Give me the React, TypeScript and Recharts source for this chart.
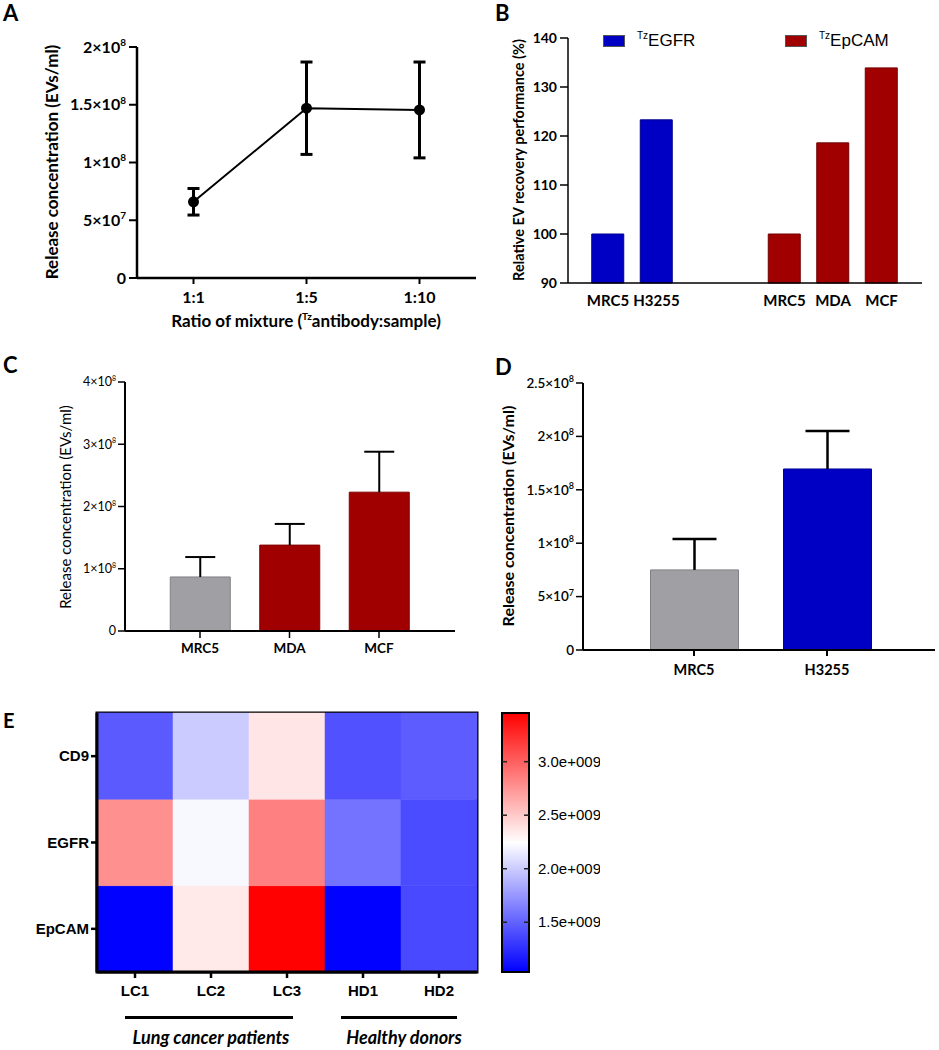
import React from "react";
import {
  ComposedChart,
  BarChart,
  Bar,
  Line,
  XAxis,
  YAxis,
  ErrorBar,
  Legend,
  Cell,
  ReferenceArea,
} from "recharts";

const FONT = "Lato, 'Open Sans', sans-serif";
const ARIAL = "'Liberation Sans', Arial, sans-serif";

// A: release concentration vs. mixing ratio
const ratioLabels = ["1:1", "1:5", "1:10"];
const ratioConc = [6.6e7, 1.47e8, 1.455e8];
const ratioSd = [1.15e7, 4.0e7, 4.15e7];

// B: relative recovery (%)
const egfrCells = ["MRC5", "H3255"];
const egfrRecovery = [100, 123.3];
const epcamCells = ["MRC5", "MDA", "MCF"];
const epcamRecovery = [100, 118.6, 133.9];

// C: EpCAM capture
const cCells = ["MRC5", "MDA", "MCF"];
const cConc = [0.868e8, 1.38e8, 2.23e8];
const cSd = [0.32e8, 0.34e8, 0.65e8];

// D: EGFR capture
const dCells = ["MRC5", "H3255"];
const dConc = [7.5e7, 1.695e8];
const dSd = [2.9e7, 3.55e7];

// E: heatmap
const samples = ["LC1", "LC2", "LC3", "HD1", "HD2"];
const markers = ["CD9", "EGFR", "EpCAM"];
const cd9Signal = [1.46e9, 2.0e9, 2.37e9, 1.42e9, 1.47e9];
const egfrSignal = [2.77e9, 2.21e9, 2.85e9, 1.58e9, 1.39e9];
const epcamSignal = [1.04e9, 2.35e9, 3.45e9, 1.04e9, 1.38e9];
const colorTicks = [1.5e9, 2.0e9, 2.5e9, 3.0e9];
const COLOR_MIN = 1.035e9;
const COLOR_MAX = 3.455e9;

const GRAY = "#a0a0a4";
const DARKRED = "#a00000";
const BLUE = "#0000c4";

const ratioData = ratioLabels.map((r, i) => ({ ratio: r, conc: ratioConc[i], sd: ratioSd[i] }));
const egfrData = egfrCells.map((c, i) => ({ cell: c, recovery: egfrRecovery[i] }));
const epcamData = epcamCells.map((c, i) => ({ cell: c, recovery: epcamRecovery[i] }));
const cData = cCells.map((c, i) => ({ cell: c, conc: cConc[i], sd: cSd[i] }));
const dData = dCells.map((c, i) => ({ cell: c, conc: dConc[i], sd: dSd[i] }));
const heatData = samples.map((s, i) => ({
  sample: s,
  CD9: cd9Signal[i],
  EGFR: egfrSignal[i],
  EpCAM: epcamSignal[i],
}));

function heatColor(v: number) {
  const t = Math.min(1, Math.max(0, (v - COLOR_MIN) / (COLOR_MAX - COLOR_MIN)));
  if (t < 0.5) {
    const c = Math.round(255 * (t / 0.5));
    return `rgb(${c},${c},255)`;
  }
  const c = Math.round(255 * (1 - (t - 0.5) / 0.5));
  return `rgb(255,${c},${c})`;
}

// "1.5×10⁸" style tick
function sciTick(fs: number, sup: number, weight: number) {
  return (props: any) => {
    const { x, y, payload } = props;
    const v = payload.value;
    const common = { fill: "#000", fontSize: fs, fontWeight: weight, fontFamily: FONT, textAnchor: "end" as const };
    if (v === 0) {
      return (
        <text x={x} y={y} dy="0.35em" {...common}>
          0
        </text>
      );
    }
    const exp = Math.floor(Math.log10(v) + 1e-9);
    const mant = +(v / Math.pow(10, exp)).toFixed(2);
    return (
      <text x={x} y={y} dy="0.35em" {...common}>
        {`${mant}×10`}
        <tspan fontSize={sup} dy={-fs * 0.42}>
          {exp}
        </tspan>
      </text>
    );
  };
}

function SdWhisker(props: any) {
  const { x, y, width, height, sw } = props;
  const cx = x + width / 2;
  const half = width / 4;
  return (
    <g>
      <line x1={cx} x2={cx} y1={y + height} y2={y} stroke="#000" strokeWidth={sw} />
      <line x1={cx - half} x2={cx + half} y1={y} y2={y} stroke="#000" strokeWidth={sw} />
    </g>
  );
}

function TzLegend({ payload }: any) {
  return (
    <div style={{ display: "flex", alignItems: "center" }}>
      {(payload || []).map((p: any) => (
        <div key={p.value} style={{ display: "flex", alignItems: "center" }}>
          <span
            style={{
              width: 20,
              height: 10,
              background: p.color,
              border: "1px solid #555",
              marginRight: 12,
            }}
          />
          <span style={{ fontFamily: ARIAL, fontSize: 17, color: "#000" }}>
            <span style={{ fontSize: 10, position: "relative", top: -7 }}>Tz</span>
            {p.value}
          </span>
        </div>
      ))}
    </div>
  );
}

function VTitle({ cx, cy, text, size, weight }: any) {
  return (
    <div
      style={{
        position: "absolute",
        left: cx,
        top: cy,
        transform: "translate(-50%, -50%) rotate(-90deg)",
        whiteSpace: "nowrap",
        fontSize: size,
        fontWeight: weight,
        fontFamily: FONT,
        lineHeight: 1.2,
      }}
    >
      {text}
    </div>
  );
}

function PanelLetter({ x, y, letter, size = 22 }: any) {
  return (
    <div
      style={{
        position: "absolute",
        left: x,
        top: y,
        fontSize: size,
        fontWeight: 700,
        fontFamily: FONT,
        lineHeight: 1.2,
      }}
    >
      {letter}
    </div>
  );
}

const abs = (left: number, top: number): React.CSSProperties => ({ position: "absolute", left, top });

export default function App() {
  const boldTick = (fs: number, family = FONT) => ({ fill: "#000", fontSize: fs, fontWeight: 700, fontFamily: family });

  return (
    <div
      style={{
        position: "absolute",
        left: 0,
        top: 0,
        width: 939,
        height: 1050,
        background: "#fff",
        fontFamily: FONT,
        overflow: "hidden",
      }}
    >
      {/* A */}
      <PanelLetter x={3} y={0} letter="A" />
      <VTitle cx={52} cy={162} text="Release concentration (EVs/ml)" size={17} weight={700} />
      <div style={abs(0, 0)}>
        <ComposedChart width={480} height={330} data={ratioData} margin={{ top: 47, right: 4, bottom: 0, left: 0 }}>
          <XAxis
            dataKey="ratio"
            scale="band"
            height={52}
            axisLine={{ stroke: "#000", strokeWidth: 2.5 }}
            tickLine={{ stroke: "#000", strokeWidth: 2 }}
            tickSize={6}
            tickMargin={8}
            tick={boldTick(16)}
          />
          <YAxis
            width={137}
            domain={[0, 2e8]}
            ticks={[0, 5e7, 1e8, 1.5e8, 2e8]}
            axisLine={{ stroke: "#000", strokeWidth: 2.5 }}
            tickLine={{ stroke: "#000", strokeWidth: 2 }}
            tickSize={8}
            tickMargin={3}
            tick={sciTick(16, 10, 700)}
          />
          <Line
            dataKey="conc"
            stroke="#000"
            strokeWidth={2}
            dot={{ r: 4.5, fill: "#000", stroke: "#000" }}
            isAnimationActive={false}
          >
            <ErrorBar dataKey="sd" width={6} strokeWidth={3} stroke="#000" direction="y" />
          </Line>
        </ComposedChart>
      </div>
      <div
        style={{
          position: "absolute",
          left: 306,
          top: 320,
          transform: "translate(-50%, -50%)",
          whiteSpace: "nowrap",
          fontSize: 17,
          fontWeight: 700,
          lineHeight: 1,
        }}
      >
        Ratio of mixture (<span style={{ fontSize: 10, position: "relative", top: -7 }}>Tz</span>antibody:sample)
      </div>

      {/* B */}
      <PanelLetter x={495} y={0} letter="B" />
      <VTitle cx={519} cy={160} text="Relative EV recovery performance (%)" size={14.5} weight={700} />
      <div style={abs(470, 0)}>
        <BarChart width={250} height={320} data={egfrData} margin={{ top: 38, right: 0, bottom: 0, left: 0 }}>
          <XAxis
            dataKey="cell"
            height={37}
            padding={{ left: 15.75, right: 39.25 }}
            axisLine={{ stroke: "#000", strokeWidth: 1.5 }}
            tickLine={false}
            tickSize={6}
            tickMargin={6}
            tick={boldTick(15)}
          />
          <YAxis
            width={98}
            domain={[90, 140]}
            ticks={[90, 100, 110, 120, 130, 140]}
            axisLine={{ stroke: "#000", strokeWidth: 1.5 }}
            tickLine={{ stroke: "#000", strokeWidth: 1.5 }}
            tickSize={8}
            tickMargin={3}
            tick={boldTick(14)}
          />
          <Legend
            layout="horizontal"
            verticalAlign="middle"
            align="center"
            wrapperStyle={{ top: 31, left: 133, width: "auto" }}
            content={<TzLegend />}
          />
          <Bar dataKey="recovery" name="EGFR" fill={BLUE} stroke="#00008a" barSize={32} isAnimationActive={false} />
        </BarChart>
      </div>
      <div style={abs(720, 0)}>
        <BarChart width={210} height={320} data={epcamData} margin={{ top: 38, right: 8, bottom: 0, left: 0 }}>
          <XAxis
            dataKey="cell"
            height={37}
            padding={{ left: 40.25, right: 16.25 }}
            axisLine={{ stroke: "#000", strokeWidth: 1.5 }}
            tickLine={false}
            tickSize={6}
            tickMargin={6}
            tick={boldTick(15)}
          />
          <YAxis hide width={0} domain={[90, 140]} />
          <Legend
            layout="horizontal"
            verticalAlign="middle"
            align="center"
            wrapperStyle={{ top: 31, left: 65, width: "auto" }}
            content={<TzLegend />}
          />
          <Bar dataKey="recovery" name="EpCAM" fill={DARKRED} stroke="#700000" barSize={32} isAnimationActive={false} />
        </BarChart>
      </div>

      {/* C */}
      <PanelLetter x={3} y={352} letter="C" />
      <VTitle cx={65} cy={507} text="Release concentration (EVs/ml)" size={15} weight={400} />
      <div style={abs(0, 330)}>
        <BarChart width={470} height={330} data={cData} margin={{ top: 52, right: 15, bottom: 0, left: 0 }}>
          <XAxis
            dataKey="cell"
            height={29}
            padding={{ left: 30.25, right: 31.25 }}
            axisLine={{ stroke: "#000", strokeWidth: 2 }}
            tickLine={{ stroke: "#000", strokeWidth: 1.5 }}
            tickSize={7}
            tickMargin={5}
            tick={{ fill: "#000", fontSize: 13.5, fontWeight: 700, fontFamily: FONT }}
          />
          <YAxis
            width={125}
            domain={[0, 4e8]}
            ticks={[0, 1e8, 2e8, 3e8, 4e8]}
            axisLine={{ stroke: "#000", strokeWidth: 2 }}
            tickLine={{ stroke: "#000", strokeWidth: 1.5 }}
            tickSize={7}
            tickMargin={2}
            tick={sciTick(12.5, 7, 400)}
          />
          <Bar dataKey="conc" stackId="c" barSize={60} isAnimationActive={false}>
            {cData.map((d, i) => (
              <Cell key={d.cell} fill={i === 0 ? GRAY : DARKRED} stroke={i === 0 ? "#808084" : "#800000"} />
            ))}
          </Bar>
          <Bar
            dataKey="sd"
            stackId="c"
            barSize={60}
            isAnimationActive={false}
            shape={(p: any) => <SdWhisker {...p} sw={2} />}
          />
        </BarChart>
      </div>

      {/* D */}
      <PanelLetter x={495} y={354} letter="D" />
      <VTitle cx={508} cy={516} text="Release concentration (EVs/ml)" size={16} weight={700} />
      <div style={abs(470, 330)}>
        <BarChart width={469} height={360} data={dData} margin={{ top: 53, right: 4, bottom: 0, left: 0 }}>
          <XAxis
            dataKey="cell"
            height={40}
            padding={{ left: 44.5, right: 41.5 }}
            axisLine={{ stroke: "#000", strokeWidth: 2 }}
            tickLine={{ stroke: "#000", strokeWidth: 2 }}
            tickSize={6}
            tickMargin={9}
            tick={boldTick(14.5)}
          />
          <YAxis
            width={113}
            domain={[0, 2.5e8]}
            ticks={[0, 5e7, 1e8, 1.5e8, 2e8, 2.5e8]}
            axisLine={{ stroke: "#000", strokeWidth: 2 }}
            tickLine={{ stroke: "#000", strokeWidth: 1.5 }}
            tickSize={7}
            tickMargin={2}
            tick={sciTick(13.5, 9, 600)}
          />
          <Bar dataKey="conc" stackId="d" barSize={88} isAnimationActive={false}>
            {dData.map((d, i) => (
              <Cell key={d.cell} fill={i === 0 ? GRAY : BLUE} stroke={i === 0 ? "#808084" : "#00009a"} />
            ))}
          </Bar>
          <Bar
            dataKey="sd"
            stackId="d"
            barSize={88}
            isAnimationActive={false}
            shape={(p: any) => <SdWhisker {...p} sw={2.5} />}
          />
        </BarChart>
      </div>

      {/* E */}
      <PanelLetter x={3} y={708} letter="E" size={20} />
      <div style={abs(0, 690)}>
        <BarChart
          width={480}
          height={330}
          data={heatData}
          barCategoryGap={0}
          margin={{ top: 23, right: 3, bottom: 0, left: 0 }}
        >
          <XAxis
            dataKey="sample"
            height={48}
            axisLine={{ stroke: "#000", strokeWidth: 3 }}
            tickLine={{ stroke: "#000", strokeWidth: 2.5 }}
            tickSize={6}
            tickMargin={7}
            tick={boldTick(15, ARIAL)}
          />
          <YAxis
            type="number"
            width={97}
            domain={[0, 3]}
            ticks={[0.5, 1.5, 2.5]}
            tickFormatter={(v: number) => markers[2 - Math.floor(v)]}
            axisLine={{ stroke: "#000", strokeWidth: 3 }}
            tickLine={{ stroke: "#000", strokeWidth: 2.5 }}
            tickSize={6}
            tickMargin={2}
            tick={boldTick(15, ARIAL)}
          />
          {[...markers].reverse().map((m) => (
            <Bar key={m} dataKey={() => 1} name={m} stackId="h" isAnimationActive={false}>
              {heatData.map((d: any) => (
                <Cell key={d.sample} fill={heatColor(d[m])} stroke={heatColor(d[m])} strokeWidth={0.5} />
              ))}
            </Bar>
          ))}
          <ReferenceArea
            x1={samples[0]}
            x2={samples[samples.length - 1]}
            y1={0}
            y2={3}
            fill="none"
            fillOpacity={0}
            stroke="#000"
            strokeWidth={3}
            ifOverflow="visible"
          />
        </BarChart>
      </div>

      {/* colour scale */}
      <div style={abs(480, 690)}>
        <BarChart
          width={120}
          height={330}
          data={[{ k: "scale", v: COLOR_MAX }]}
          barCategoryGap={0}
          margin={{ top: 23, right: 0, bottom: 48, left: 22 }}
        >
          <defs>
            <linearGradient id="heatScale" x1="0" y1="0" x2="0" y2="1">
              <stop offset="0%" stopColor="#ff0000" />
              <stop offset="50%" stopColor="#ffffff" />
              <stop offset="100%" stopColor="#0000ff" />
            </linearGradient>
          </defs>
          <XAxis dataKey="k" hide />
          <YAxis
            orientation="right"
            width={71}
            domain={[COLOR_MIN, COLOR_MAX]}
            ticks={colorTicks}
            axisLine={false}
            tickLine={false}
            tickSize={0}
            tickMargin={9}
            tick={(p: any) => {
              const edge = p.x - 9;
              return (
                <g>
                  <line x1={edge - 5} x2={edge} y1={p.y} y2={p.y} stroke="#222" strokeWidth={1.5} />
                  <line x1={edge - 27} x2={edge - 22} y1={p.y} y2={p.y} stroke="#222" strokeWidth={1.5} />
                  <text x={p.x} y={p.y} dy="0.35em" fontSize={15} fontFamily={ARIAL} fill="#000">
                    {`${(p.payload.value / 1e9).toFixed(1)}e+009`}
                  </text>
                </g>
              );
            }}
          />
          <Bar dataKey="v" fill="url(#heatScale)" stroke="#000" strokeWidth={2} isAnimationActive={false} />
        </BarChart>
      </div>

      {/* group brackets */}
      <div style={{ position: "absolute", left: 125, top: 1016, width: 168, height: 3, background: "#000" }} />
      <div style={{ position: "absolute", left: 341, top: 1016, width: 116, height: 3, background: "#000" }} />
      <div
        style={{
          position: "absolute",
          left: 211,
          top: 1038,
          transform: "translate(-50%, -50%)",
          fontStyle: "italic",
          fontWeight: 700,
          fontSize: 18,
          whiteSpace: "nowrap",
          lineHeight: 1.2,
        }}
      >
        Lung cancer patients
      </div>
      <div
        style={{
          position: "absolute",
          left: 404,
          top: 1038,
          transform: "translate(-50%, -50%)",
          fontStyle: "italic",
          fontWeight: 700,
          fontSize: 18,
          whiteSpace: "nowrap",
          lineHeight: 1.2,
        }}
      >
        Healthy donors
      </div>
    </div>
  );
}
